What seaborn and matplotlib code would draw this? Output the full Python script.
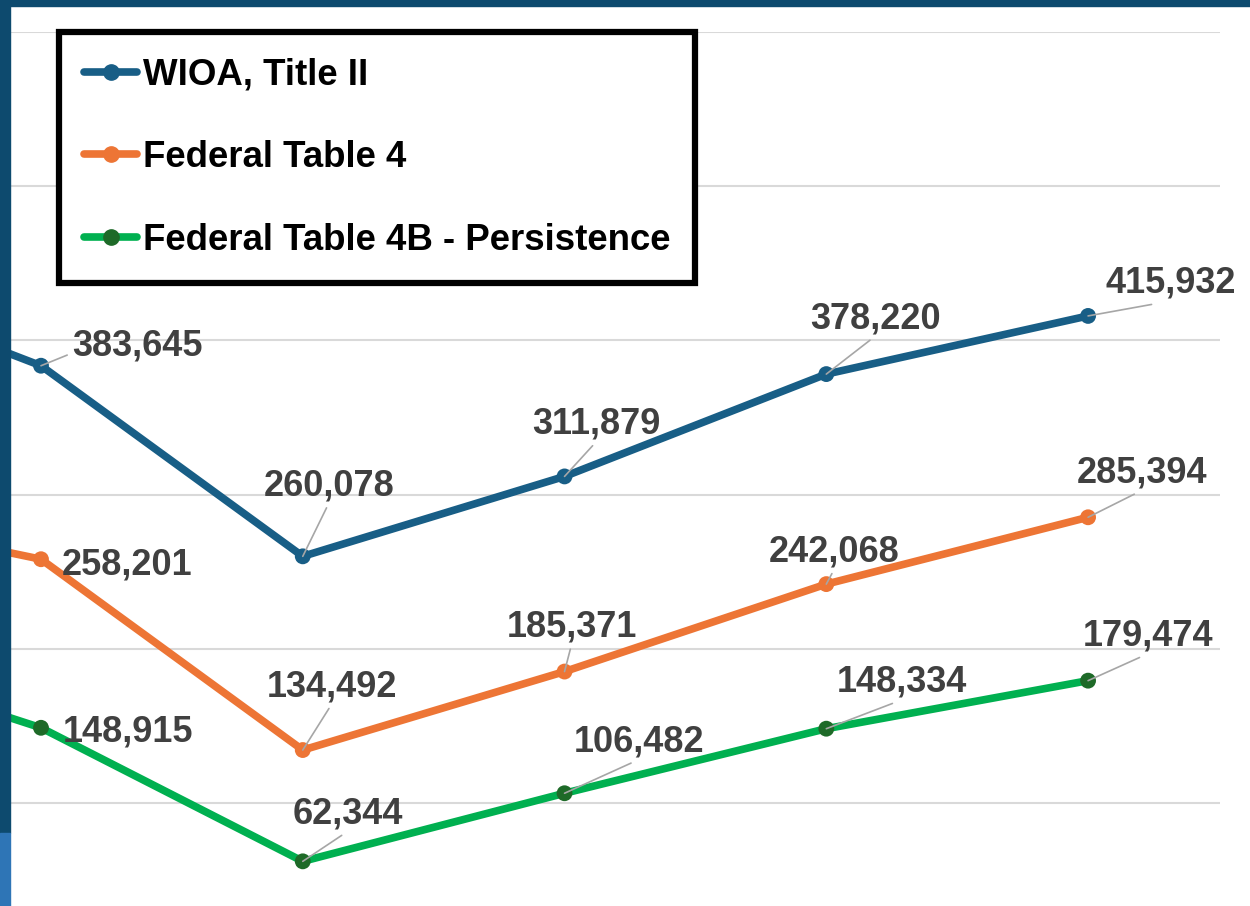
import pandas as pd
import seaborn as sns
import matplotlib.pyplot as plt
from matplotlib.lines import Line2D
from matplotlib.patches import Rectangle

""" Data read off the chart """
period = [0, 1, 2, 3, 4, 5]  # first point lies off the left edge of the crop
wioa_title_ii = [448900, 383645, 260078, 311879, 378220, 415932]
federal_table_4 = [293500, 258201, 134492, 185371, 242068, 285394]
federal_table_4b = [204000, 148915, 62344, 106482, 148334, 179474]
series_names = ["WIOA, Title II", "Federal Table 4", "Federal Table 4B - Persistence"]

data = pd.DataFrame({
    "period": period * 3,
    "count": wioa_title_ii + federal_table_4 + federal_table_4b,
    "series": [series_names[0]] * 6 + [series_names[1]] * 6 + [series_names[2]] * 6,
})

""" Styling """
line_colors = {series_names[0]: "#185E86", series_names[1]: "#ED7535", series_names[2]: "#00B050"}
marker_colors = {series_names[0]: "#185E86", series_names[1]: "#ED7535", series_names[2]: "#1E6A28"}
# label offsets in pixels (dx, dy) from each point, for visible points 1..5
label_offsets = {
    series_names[0]: [(96, 10), (26, 61), (32, 43), (49, 46), (83, 23)],
    series_names[1]: [(86, -15), (29, 54), (7, 35), (8, 23), (54, 35)],
    series_names[2]: [(87, -14), (45, 38), (75, 42), (76, 37), (60, 35)],
}
leader = {
    series_names[0]: [True, True, True, True, True],
    series_names[1]: [False, True, True, True, True],
    series_names[2]: [False, True, True, True, True],
}

sns.set_style("white")
plt.rcParams["font.family"] = ["Liberation Sans", "DejaVu Sans"]

fig = plt.figure(figsize=(12.5, 9.06), dpi=100)
ax = fig.add_axes([0.008, -0.05684, 0.968, 1.02152])

sns.lineplot(data=data, x="period", y="count", hue="series", palette=line_colors,
             linewidth=5.5, legend=False, ax=ax, sort=False)
sns.scatterplot(data=data, x="period", y="count", hue="series", palette=marker_colors,
                s=130, linewidth=0, legend=False, ax=ax, zorder=3)

ax.set_xlim(0.8816, 5.504)
ax.set_ylim(0, 600000)
ax.set_yticks([100000, 200000, 300000, 400000, 500000, 600000])
ax.set_xticks([])
ax.tick_params(left=False, labelleft=False)
ax.grid(axis="y", color="#D9D9D9", linewidth=1.5)
ax.set(xlabel="", ylabel="")
sns.despine(left=True, bottom=True, top=True, right=True)

# data labels
for name, values in zip(series_names, [wioa_title_ii, federal_table_4, federal_table_4b]):
    for i in range(1, 6):
        dx, dy = label_offsets[name][i - 1]
        arrow = None
        if leader[name][i - 1]:
            rel = (0.0, 0.3) if i == 1 else (0.5, 0.0)
            arrow = dict(arrowstyle="-", color="#A6A6A6", lw=1.2, shrinkA=1, shrinkB=0, relpos=rel)
        ax.annotate(f"{values[i]:,}", xy=(period[i], values[i]), xytext=(dx, dy),
                    textcoords="offset pixels", ha="center", va="baseline",
                    fontsize=26, fontweight="bold", color="#404040",
                    arrowprops=arrow, annotation_clip=False)

handles = [Line2D([0], [0], color=line_colors[n], lw=5.5, marker="o", markersize=11,
                  markerfacecolor=marker_colors[n], markeredgecolor=marker_colors[n])
           for n in series_names]
leg = ax.legend(handles, series_names, loc="upper left", bbox_to_anchor=(0.0405, 0.9995),
                borderaxespad=0, frameon=True, fancybox=False, framealpha=1,
                prop={"weight": "bold", "size": 26.4}, labelcolor="black",
                handlelength=1.45, handletextpad=0.15, labelspacing=1.3, borderpad=0.68)
leg.get_frame().set_edgecolor("black")
leg.get_frame().set_linewidth(4.5)

# dashboard frame around the crop
fig.patches.append(Rectangle((0, 1 - 6 / 906), 1, 6 / 906, transform=fig.transFigure,
                             color="#0D4A6E", zorder=10))
fig.patches.append(Rectangle((0, 73 / 906), 10 / 1250, 1, transform=fig.transFigure,
                             color="#0D4A6E", zorder=10))
fig.patches.append(Rectangle((0, 0), 10 / 1250, 73 / 906, transform=fig.transFigure,
                             color="#2E75B6", zorder=10))

plt.savefig("out.png", dpi=100)
